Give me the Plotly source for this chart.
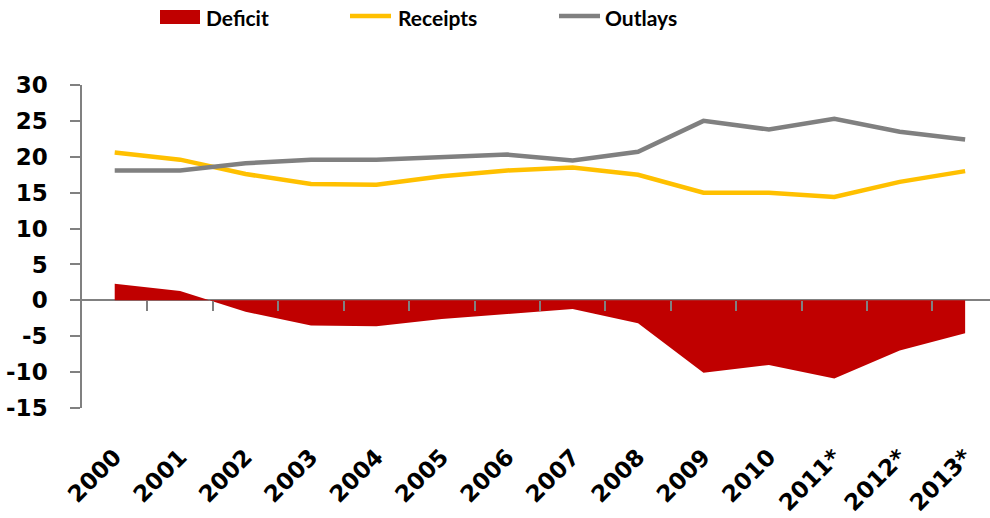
import plotly.graph_objects as go

# Federal budget as a share of GDP (%), * = projection
years = ["2000", "2001", "2002", "2003", "2004", "2005", "2006",
         "2007", "2008", "2009", "2010", "2011*", "2012*", "2013*"]
receipts = [20.6, 19.6, 17.6, 16.2, 16.1, 17.3, 18.1,
            18.5, 17.5, 15.0, 15.0, 14.4, 16.5, 18.0]
outlays = [18.1, 18.1, 19.1, 19.6, 19.6, 20.0, 20.3,
           19.5, 20.7, 25.0, 23.8, 25.3, 23.5, 22.4]
deficit = [2.3, 1.3, -1.6, -3.5, -3.6, -2.6, -1.9,
           -1.2, -3.2, -10.1, -9.0, -10.9, -7.0, -4.6]
y_ticks = list(range(-15, 31, 5))
y_labels = [str(v) for v in y_ticks]  # plain hyphen for negatives

RED = "#C00000"
YELLOW = "#FFC000"
GREY = "#808080"
TICK_FONT = dict(family="DejaVu Sans, Open Sans, sans-serif", size=23,
                 color="black", weight="bold")
LEGEND_FONT = dict(family="Lato, Open Sans, sans-serif",
                   size=21, color="black", weight="bold")

pos = list(range(len(years)))
x_range = [-0.5, 13.38]

fig = go.Figure()
fig.add_trace(go.Scatter(x=pos, y=deficit, name="Deficit", mode="lines",
                         line=dict(width=0, color=RED), fill="tozeroy",
                         fillcolor=RED, hoverinfo="x+y"))
fig.add_trace(go.Scatter(x=pos, y=receipts, name="Receipts", mode="lines",
                         line=dict(width=4.5, color=YELLOW)))
fig.add_trace(go.Scatter(x=pos, y=outlays, name="Outlays", mode="lines",
                         line=dict(width=4.5, color=GREY)))
# invisible carrier so the category-boundary tick axis at y=0 is drawn
fig.add_trace(go.Scatter(x=[pos[0]], y=[0], xaxis="x2", mode="markers",
                         marker=dict(opacity=0), showlegend=False,
                         hoverinfo="skip"))

# PLOT geometry in pixels
W, H = 990, 518
L, R, T, B = 82, 0, 85, 110
pw, ph = W - L - R, H - T - B


def px_x(p):
    return (p - L) / pw


def px_y(p):
    return (H - B - p) / ph


# hand-built legend row across the top
legend_items = [
    ("Deficit", "box", RED, 160, 200, 204),
    ("Receipts", "line", YELLOW, 350, 391, 396),
    ("Outlays", "line", GREY, 559, 600, 603),
]
shapes, annotations = [], []
for label, kind, color, x0, x1, xt in legend_items:
    if kind == "box":
        shapes.append(dict(type="rect", xref="paper", yref="paper",
                           x0=px_x(x0), x1=px_x(x1), y0=px_y(24), y1=px_y(10),
                           fillcolor=color, line=dict(width=0)))
    else:
        shapes.append(dict(type="line", xref="paper", yref="paper",
                           x0=px_x(x0), x1=px_x(x1), y0=px_y(16), y1=px_y(16),
                           line=dict(color=color, width=4.5)))
    annotations.append(dict(text=label, xref="paper", yref="paper",
                            x=px_x(xt), y=px_y(17), xanchor="left",
                            yanchor="middle", showarrow=False,
                            font=LEGEND_FONT))

fig.update_layout(
    width=W, height=H,
    margin=dict(l=L, r=R, t=T, b=B),
    paper_bgcolor="white", plot_bgcolor="white",
    showlegend=False,
    shapes=shapes, annotations=annotations,
    xaxis=dict(range=x_range, tickmode="array", tickvals=pos, ticktext=years,
               tickangle=-45, showline=False, ticks="", showgrid=False,
               zeroline=False, tickfont=TICK_FONT, ticklabelstandoff=30),
    xaxis2=dict(range=x_range, overlaying="x", anchor="free",
                position=15 / 45, side="bottom",
                tickmode="array", tickvals=[p + 0.5 for p in pos[:-1]],
                ticks="outside", ticklen=10, tickwidth=1.5, tickcolor=GREY,
                showticklabels=False, showline=False, showgrid=False,
                zeroline=False),
    yaxis=dict(range=[-15, 30], tickmode="array", tickvals=y_ticks,
               ticktext=y_labels,
               showline=True, linecolor=GREY, linewidth=1.5,
               ticks="outside", ticklen=10, tickwidth=1.5, tickcolor=GREY,
               showgrid=False, zeroline=True, zerolinecolor=GREY,
               zerolinewidth=1.5, tickfont=TICK_FONT, ticklabelstandoff=18),
)

fig.write_html("out.html")
